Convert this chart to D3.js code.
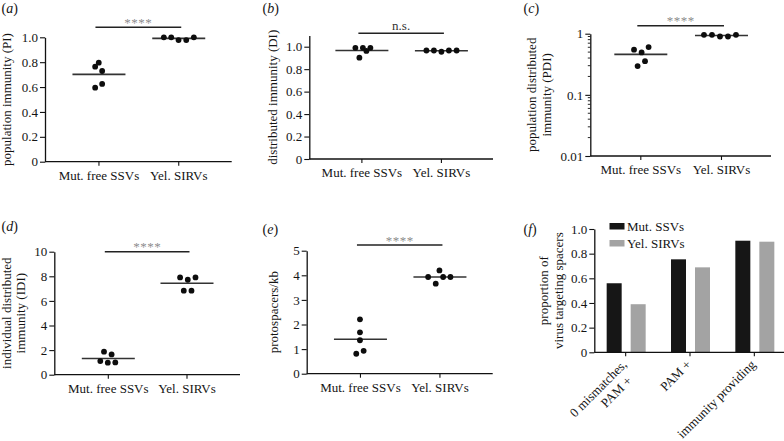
<!DOCTYPE html>
<html>
<head>
<meta charset="utf-8">
<script src="https://cdn.jsdelivr.net/npm/d3@7"></script>
<style>
  html, body { margin: 0; padding: 0; background: #fff; }
  svg { display: block; }
  text { font-family: "Liberation Serif", "Times New Roman", serif; fill: #141414; }
</style>
</head>
<body>
<svg id="chart" width="784" height="441"></svg>
<script>
// ---------------- data ----------------
const groups = ["Mut. free SSVs", "Yel. SIRVs"];

// (a) population immunity (PI)
const piSSV  = [0.796, 0.764, 0.729, 0.625, 0.595];
const piSIRV = [1.0, 1.0, 0.978, 0.978, 1.0];
// (b) distributed immunity (DI)
const diSSV  = [0.99, 0.99, 0.99, 0.962, 0.902];
const diSIRV = [0.966, 0.966, 0.955, 0.966, 0.966];
// (c) population distributed immunity (PDI)
const pdiSSV  = [0.547, 0.494, 0.604, 0.356, 0.295];
const pdiSIRV = [0.96, 0.96, 0.90, 0.90, 0.96];
// (d) individual distributed immunity (IDI)
const idiSSV  = [1.87, 1.65, 1.11, 0.98, 1.0];
const idiSIRV = [7.91, 7.72, 7.91, 6.83, 6.83];
// (e) protospacers/kb
const psSSV  = [2.21, 1.68, 1.36, 0.93, 0.81];
const psSIRV = [4.2, 3.93, 3.93, 3.93, 3.66];

const sigLabels = ["****", "n.s.", "****", "****", "****"];

const ticksA = [0, 0.2, 0.4, 0.6, 0.8, 1.0];
const ticksB = [0, 0.2, 0.4, 0.6, 0.8, 1.0];
const ticksC = [0.01, 0.1, 1];
const ticksD = [0, 2, 4, 6, 8, 10];
const ticksE = [0, 1, 2, 3, 4, 5];
const ticksF = [0, 0.2, 0.4, 0.6, 0.8, 1.0];

// (f) proportion of virus targeting spacers
const barCategories = ["0 mismatches, PAM +", "PAM +", "immunity providing"];
const barCategoryLines = [["0 mismatches,", "PAM +"], ["PAM +"], ["immunity providing"]];
const barSeries = ["Mut. SSVs", "Yel. SIRVs"];
const barMut = [0.56, 0.754, 0.905];
const barYel = [0.39, 0.689, 0.897];

// layout only: horizontal scatter offsets (px) for each dot
const jitA = [[0.3, -3.3, 3.7, 3.7, -3.3], [-14.4, -7, 0.3, 8, 15.6]];
const jitB = [[-6, 1.5, 9, 5, -2], [-14.5, -7, 0.5, 8, 15.7]];
const jitC = [[-6.3, 1.3, 8.3, 4.7, -2.7], [-17, -9, -1, 7, 15]];
const jitD = [[-3.8, 3.8, -7.5, 0, 7.5], [-6.4, 1.3, 9, -2.7, 5]];
const jitE = [[0, 0, 0, 3.7, -3.7], [0, -11.3, 3.7, 11, -3.7]];

// ---------------- drawing ----------------
const svg = d3.select("#chart");
const FS = 13;
const SERIF = '"Liberation Serif", "Times New Roman", serif';

function panelLabel(x, y, letter) {
  const t = svg.append("text").attr("x", x).attr("y", y).style("font-size", "14px");
  t.append("tspan").text("(");
  t.append("tspan").style("font-style", "italic").text(letter);
  t.append("tspan").text(")");
}

function yTitle(lines, xs, yc) {
  lines.forEach((ln, i) => {
    svg.append("text")
      .attr("transform", `translate(${xs[i]},${yc}) rotate(-90)`)
      .attr("text-anchor", "middle")
      .style("font-size", FS + "px")
      .text(ln);
  });
}

function styleAxis(g) {
  g.attr("font-family", SERIF).attr("font-size", FS);
  g.selectAll("path.domain").attr("stroke", "#111").attr("stroke-width", 1.3);
  g.selectAll(".tick line").attr("stroke", "#111").attr("stroke-width", 1.1);
  g.selectAll(".tick text").style("font-size", FS + "px")
    .style("font-family", SERIF).attr("fill", "#141414");
}

function scatterPanel(o) {
  const x = d3.scalePoint().domain(groups).range(o.xr).padding(o.pad);
  const y = o.y;
  // y axis
  const ya = d3.axisLeft(y).tickValues(o.ticks).tickFormat(o.fmt).tickSize(5).tickPadding(2).tickSizeOuter(0);
  const gy = svg.append("g").attr("transform", `translate(${o.xr[0]},0)`).call(ya);
  styleAxis(gy);
  if (o.minor) {
    const gm = svg.append("g").attr("transform", `translate(${o.xr[0]},0)`);
    gm.selectAll("line").data(o.minor).join("line")
      .attr("x1", -2.5).attr("x2", 0)
      .attr("y1", d => y(d)).attr("y2", d => y(d))
      .attr("stroke", "#111").attr("stroke-width", 0.9);
  }
  // x axis
  const xa = d3.axisBottom(x).tickSize(4).tickPadding(5).tickSizeOuter(0);
  const gx = svg.append("g").attr("transform", `translate(0,${o.y0})`).call(xa);
  styleAxis(gx);
  gx.selectAll("path.domain").attr("d", `M${o.xr[0]},0H${o.xr[1]}`);
  // mean lines + dots
  o.data.forEach((vals, gi) => {
    const cx = x(groups[gi]);
    const m = d3.mean(vals);
    svg.append("line")
      .attr("x1", cx - 26).attr("x2", cx + 27)
      .attr("y1", y(m)).attr("y2", y(m))
      .attr("stroke", "#333").attr("stroke-width", 1.6);
    svg.append("g").selectAll("circle").data(vals).join("circle")
      .attr("cx", (d, i) => cx + o.jit[gi][i])
      .attr("cy", d => y(d))
      .attr("r", 2.9)
      .attr("fill", "#0d0d0d");
  });
  // significance bar
  const sx0 = x(groups[0]) - 3, sx1 = x(groups[1]) + 3;
  const ns = o.sigText === "n.s.";
  svg.append("line").attr("x1", sx0).attr("x2", sx1).attr("y1", o.sigY).attr("y2", o.sigY)
    .attr("stroke", "#222").attr("stroke-width", 1.4);
  svg.append("text")
    .attr("x", (sx0 + sx1) / 2)
    .attr("y", ns ? o.sigY - 3 : o.sigY - 0.5)
    .attr("text-anchor", "middle")
    .style("font-size", FS + "px")
    .style("fill", ns ? "#333" : "#8c8c8c")
    .style("letter-spacing", ns ? "0px" : "0.5px")
    .text(o.sigText);
  // titles
  yTitle(o.title, o.titleX, (o.y0 + o.yTop) / 2);
  panelLabel(o.lab[0], o.lab[1], o.letter);
}

const fmt1 = d => d === 0 ? "0" : d3.format(".1f")(d);
const fmt0 = d => d3.format("d")(d);

// (a)
scatterPanel({
  letter: "a", lab: [1.5, 13],
  xr: [45, 231.7], pad: 0.67, y0: 161.7, yTop: 37.3,
  y: d3.scaleLinear().domain([0, 1]).range([161.7, 37.3]),
  ticks: ticksA, fmt: fmt1,
  data: [piSSV, piSIRV], jit: jitA,
  sigY: 27.3, sigText: sigLabels[0],
  title: ["population immunity (PI)"], titleX: [11]
});
// (b)
scatterPanel({
  letter: "b", lab: [262.5, 13],
  xr: [309.3, 493], pad: 0.655, y0: 159, yTop: 35.5,
  y: d3.scaleLinear().domain([0, 1.1]).range([159, 159 - 1.1 * 112.3]),
  ticks: ticksB, fmt: fmt1,
  data: [diSSV, diSIRV], jit: jitB,
  sigY: 33.3, sigText: sigLabels[1],
  title: ["distributed immunity (DI)"], titleX: [276.5]
});
// (c)
const minorC = [];
[0.01, 0.1].forEach(dec => { for (let k = 2; k <= 9; k++) minorC.push(dec * k); });
scatterPanel({
  letter: "c", lab: [523.5, 13],
  xr: [590.3, 771], pad: 0.62, y0: 156, yTop: 33.7,
  y: d3.scaleLog().domain([0.01, 1]).range([156, 33.7]),
  ticks: ticksC, fmt: d => d >= 1 ? "1" : String(d),
  minor: minorC,
  data: [pdiSSV, pdiSIRV], jit: jitC,
  sigY: 25.7, sigText: sigLabels[2],
  title: ["population distributed", "immunity (PDI)"], titleX: [536, 551]
});
// (d)
scatterPanel({
  letter: "d", lab: [1.5, 231],
  xr: [54.3, 240], pad: 0.68, y0: 374.7, yTop: 251.7,
  y: d3.scaleLinear().domain([0, 10]).range([374.7, 251.7]),
  ticks: ticksD, fmt: fmt0,
  data: [idiSSV, idiSIRV], jit: jitD,
  sigY: 251.7, sigText: sigLabels[3],
  title: ["individual distributed", "immunity (IDI)"], titleX: [11, 25]
});
// (e)
scatterPanel({
  letter: "e", lab: [262.5, 234],
  xr: [306.7, 492.7], pad: 0.67, y0: 373.7, yTop: 250.7,
  y: d3.scaleLinear().domain([0, 5]).range([373.7, 250.7]),
  ticks: ticksE, fmt: fmt0,
  data: [psSSV, psSIRV], jit: jitE,
  sigY: 245, sigText: sigLabels[4],
  title: ["protospacers/kb"], titleX: [278]
});

// (f) grouped bars
(function () {
  const x0 = 594.3, xEnd = 786.5, yb = 352.3, yt = 229;
  const x = d3.scaleBand().domain(barCategories).range([593.5, xEnd]).padding(0);
  const xs = d3.scaleBand().domain(barSeries).range([-19, 20]).paddingInner(0.375).paddingOuter(0);
  const y = d3.scaleLinear().domain([0, 1]).range([yb, yt]);
  const colors = ["#161616", "#a3a3a3"];
  const series = [barMut, barYel];

  series.forEach((vals, si) => {
    svg.append("g").selectAll("rect").data(vals).join("rect")
      .attr("x", (d, i) => x(barCategories[i]) + x.bandwidth() / 2 + xs(barSeries[si]))
      .attr("y", d => y(d))
      .attr("width", xs.bandwidth())
      .attr("height", d => yb - y(d))
      .attr("fill", colors[si]);
  });

  const ya = d3.axisLeft(y).tickValues(ticksF).tickFormat(fmt1).tickSize(5).tickPadding(2).tickSizeOuter(0);
  const gy = svg.append("g").attr("transform", `translate(${x0},0)`).call(ya);
  styleAxis(gy);

  const xa = d3.axisBottom(x).tickSize(4).tickFormat("").tickSizeOuter(0);
  const gx = svg.append("g").attr("transform", `translate(0,${yb})`).call(xa);
  styleAxis(gx);
  gx.selectAll("path.domain").attr("d", `M${x0},0H784`);

  // rotated category labels (multi-line: right aligned, next line shifted perpendicular)
  const s45 = Math.SQRT1_2;
  barCategories.forEach((c, i) => {
    const cx = x(c) + x.bandwidth() / 2;
    barCategoryLines[i].forEach((ln, li) => {
      const perp = li * 15, back = li * 8;
      const tx = cx + 2 + perp * s45 - back * s45;
      const ty = yb + 13 + perp * s45 + back * s45;
      svg.append("text")
        .attr("transform", `translate(${tx},${ty}) rotate(-45)`)
        .attr("text-anchor", "end")
        .style("font-size", FS + "px")
        .text(ln);
    });
  });

  // legend
  barSeries.forEach((s, i) => {
    svg.append("rect").attr("x", 609.5).attr("y", 223 + i * 17).attr("width", 15).attr("height", 6.5)
      .attr("fill", colors[i]);
    svg.append("text").attr("x", 627).attr("y", 230.5 + i * 17)
      .style("font-size", FS + "px").text(s);
  });

  yTitle(["proportion of", "virus targeting spacers"], [548, 562.5], (yb + yt) / 2);
  panelLabel(523.5, 234, "f");
})();
</script>
</body>
</html>
